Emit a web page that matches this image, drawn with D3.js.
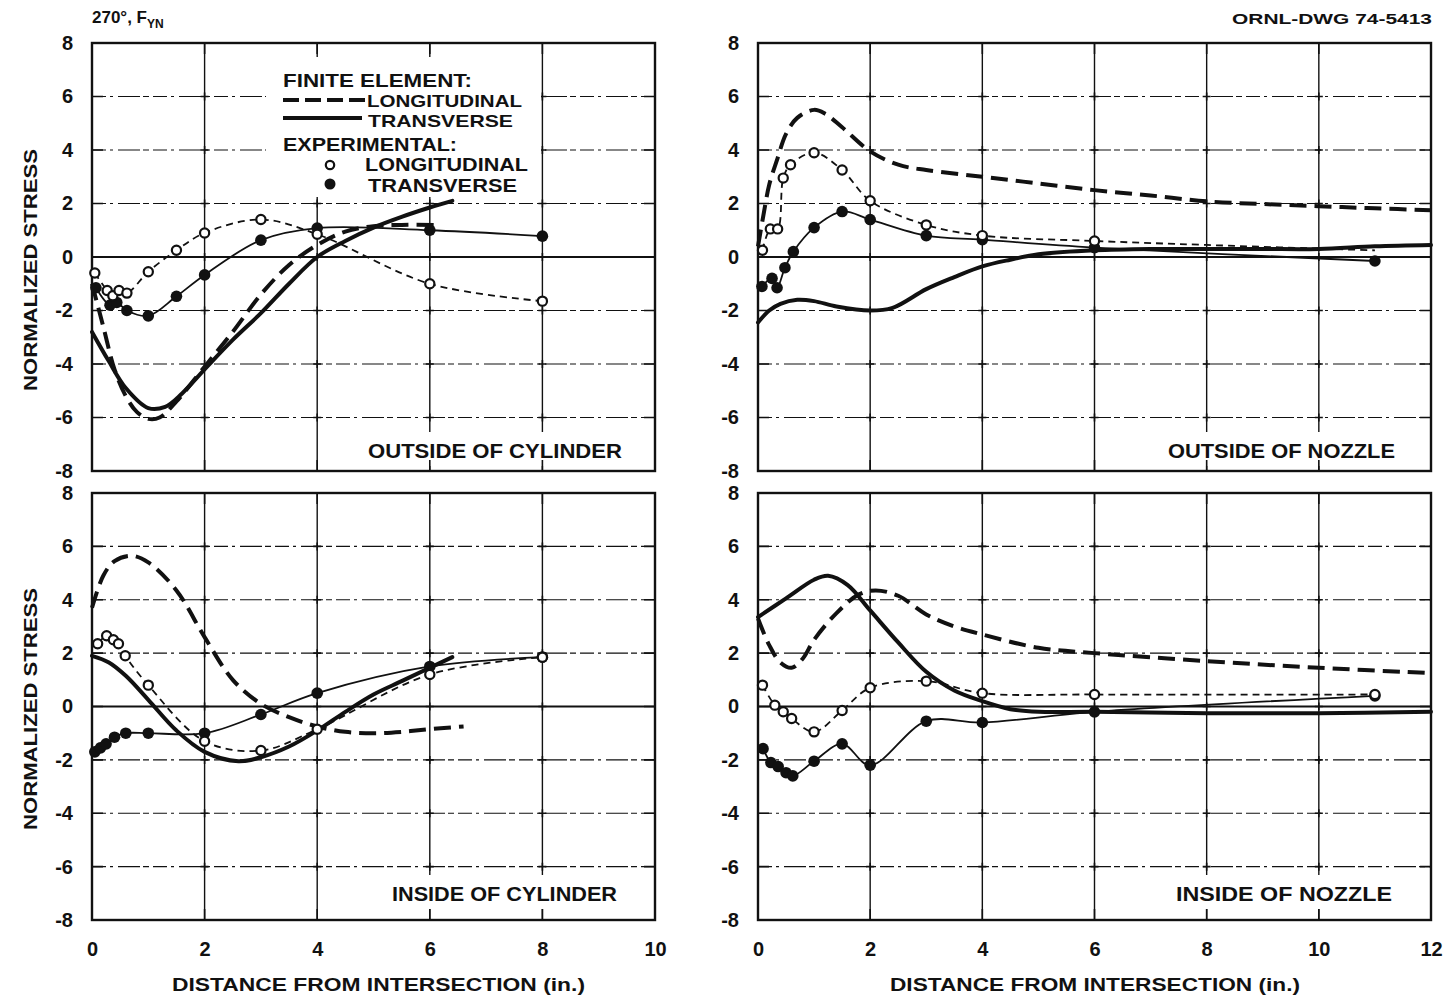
<!DOCTYPE html>
<html>
<head>
<meta charset="utf-8">
<script src="https://cdn.jsdelivr.net/npm/d3@7"></script>
<style>
  body { margin: 0; background: #fff; }
  svg { display: block; }
  text { font-family: "Liberation Sans", Arial, sans-serif; font-weight: bold; fill: #111; }
</style>
</head>
<body>
<svg id="chart" width="1447" height="1001"></svg>
<script>
// ---- axis ticks ----
const xTicksCylinder = [0, 2, 4, 6, 8, 10];
const xTicksNozzle = [0, 2, 4, 6, 8, 10, 12];
const yTicks = [8, 6, 4, 2, 0, -2, -4, -6, -8];

// ---- outside of cylinder ----
const feLongOutCyl = [[0,-1.0],[0.2,-2.6],[0.4,-4.2],[0.6,-5.2],[0.8,-5.8],[1.0,-6.05],[1.2,-6.0],[1.5,-5.4],[2.0,-4.1],[2.5,-2.8],[3.0,-1.4],[3.5,-0.3],[4.0,0.45],[4.5,0.95],[5.0,1.15],[5.5,1.2],[6.1,1.2]];
const feTransOutCyl = [[0,-2.8],[0.3,-3.9],[0.6,-4.9],[1.0,-5.65],[1.3,-5.6],[1.6,-5.1],[2.0,-4.2],[2.5,-3.1],[3.0,-2.1],[3.5,-1.0],[4.0,0.0],[4.5,0.6],[5.0,1.1],[5.5,1.5],[6.0,1.85],[6.4,2.1]];
const expLongOutCyl = [[0.05,-0.6],[0.27,-1.25],[0.37,-1.45],[0.48,-1.25],[0.62,-1.35],[1.0,-0.55],[1.5,0.25],[2.0,0.9],[3.0,1.4],[4.0,0.85],[6.0,-1.0],[8.0,-1.65]];
const expTransOutCyl = [[0.07,-1.15],[0.32,-1.8],[0.44,-1.7],[0.62,-2.0],[1.0,-2.2],[1.5,-1.47],[2.0,-0.67],[3.0,0.63],[4.0,1.08],[6.0,1.0],[8.0,0.78]];

// ---- outside of nozzle ----
const feLongOutNoz = [[0,0.4],[0.1,1.6],[0.2,2.7],[0.35,3.7],[0.5,4.6],[0.7,5.2],[1.0,5.5],[1.2,5.35],[1.5,4.85],[2.0,3.95],[2.5,3.45],[3.0,3.25],[4.0,3.0],[5.0,2.75],[6.0,2.5],[7.0,2.3],[8.0,2.08],[9.0,1.98],[10.0,1.9],[11.0,1.82],[12.0,1.75]];
const feTransOutNoz = [[0,-2.45],[0.2,-2.0],[0.4,-1.75],[0.7,-1.6],[1.0,-1.65],[1.4,-1.85],[2.0,-2.0],[2.4,-1.9],[3.0,-1.2],[3.5,-0.75],[4.0,-0.35],[4.5,-0.1],[5.0,0.1],[6.0,0.25],[7.0,0.3],[8.0,0.3],[9.0,0.3],[10.0,0.3],[11.0,0.4],[12.0,0.45]];
const expLongOutNoz = [[0.08,0.25],[0.22,1.05],[0.35,1.05],[0.45,2.95],[0.58,3.45],[1.0,3.9],[1.5,3.25],[2.0,2.1],[3.0,1.2],[4.0,0.8],[6.0,0.6]];
const expLongOutNozTail = [[8.0,0.45],[11.0,0.25]];
const expTransOutNoz = [[0.07,-1.1],[0.25,-0.8],[0.34,-1.15],[0.48,-0.4],[0.63,0.2],[1.0,1.1],[1.5,1.7],[2.0,1.4],[3.0,0.8],[4.0,0.65],[6.0,0.35],[11.0,-0.15]];

// ---- inside of cylinder ----
const feLongInCyl = [[0,3.7],[0.2,4.9],[0.4,5.45],[0.7,5.65],[1.0,5.4],[1.5,4.35],[2.0,2.6],[2.5,1.0],[3.0,0.1],[3.5,-0.4],[4.0,-0.75],[4.5,-0.95],[5.0,-1.0],[5.5,-0.95],[6.0,-0.85],[6.6,-0.75]];
const feTransInCyl = [[0,1.9],[0.3,1.65],[0.6,1.15],[1.0,0.25],[1.5,-0.9],[2.0,-1.7],[2.6,-2.05],[3.0,-1.9],[3.5,-1.5],[4.0,-0.9],[4.5,-0.2],[5.0,0.45],[5.5,0.95],[6.0,1.45],[6.4,1.85]];
const expLongInCyl = [[0.1,2.35],[0.26,2.65],[0.38,2.5],[0.47,2.35],[0.59,1.9],[1.0,0.8],[2.0,-1.3],[3.0,-1.65],[4.0,-0.85],[6.0,1.2],[8.0,1.85]];
const expTransInCyl = [[0.05,-1.7],[0.15,-1.55],[0.25,-1.4],[0.4,-1.15],[0.6,-1.0],[1.0,-1.0],[2.0,-1.0],[3.0,-0.3],[4.0,0.5],[6.0,1.5],[8.0,1.85]];

// ---- inside of nozzle ----
const feLongInNoz = [[0,3.3],[0.2,2.3],[0.4,1.65],[0.6,1.45],[0.8,1.8],[1.0,2.5],[1.4,3.5],[1.8,4.2],[2.1,4.35],[2.5,4.15],[3.0,3.45],[3.5,3.0],[4.0,2.7],[5.0,2.2],[6.0,2.0],[8.0,1.7],[10.0,1.45],[12.0,1.25]];
const feTransInNoz = [[0,3.35],[0.5,4.05],[1.0,4.75],[1.25,4.9],[1.6,4.55],[2.0,3.6],[2.5,2.4],[3.0,1.3],[3.5,0.6],[4.0,0.2],[4.5,-0.1],[5.0,-0.2],[6.0,-0.2],[8.0,-0.25],[10.0,-0.25],[12.0,-0.2]];
const expLongInNoz = [[0.08,0.8],[0.3,0.05],[0.45,-0.2],[0.6,-0.45],[1.0,-0.95],[1.5,-0.15],[2.0,0.7],[3.0,0.95],[4.0,0.5],[6.0,0.45],[11.0,0.45]];
const expTransInNoz = [[0.09,-1.58],[0.23,-2.1],[0.36,-2.25],[0.5,-2.48],[0.62,-2.6],[1.0,-2.05],[1.5,-1.4],[2.0,-2.2],[3.0,-0.55],[4.0,-0.6],[6.0,-0.2],[11.0,0.4]];

// ---- panel layout ----
const panels = [
  { x0: 92,  x1: 655,  y0: 43,  y1: 471, xMax: 10, xTicks: xTicksCylinder, showX: false,
    label: "OUTSIDE OF CYLINDER", lx: 368, ly: 450, lw: 254,
    feLong: feLongOutCyl, feTrans: feTransOutCyl, expLong: expLongOutCyl, expTrans: expTransOutCyl, legend: true },
  { x0: 758, x1: 1431, y0: 43,  y1: 471, xMax: 12, xTicks: xTicksNozzle, showX: false,
    label: "OUTSIDE OF NOZZLE", lx: 1168, ly: 450, lw: 227,
    feLong: feLongOutNoz, feTrans: feTransOutNoz, expLong: expLongOutNoz.concat(expLongOutNozTail),
    expLongPts: expLongOutNoz, expTrans: expTransOutNoz },
  { x0: 92,  x1: 655,  y0: 493, y1: 920, xMax: 10, xTicks: xTicksCylinder, showX: true,
    label: "INSIDE OF CYLINDER", lx: 392, ly: 893, lw: 225,
    feLong: feLongInCyl, feTrans: feTransInCyl, expLong: expLongInCyl, expTrans: expTransInCyl },
  { x0: 758, x1: 1431, y0: 493, y1: 920, xMax: 12, xTicks: xTicksNozzle, showX: true,
    label: "INSIDE OF NOZZLE", lx: 1176, ly: 893, lw: 216,
    feLong: feLongInNoz, feTrans: feTransInNoz, expLong: expLongInNoz, expTrans: expTransInNoz }
];

const svg = d3.select("#chart");
const INK = "#111";

function drawPanel(p) {
  const x = d3.scaleLinear().domain([0, p.xMax]).range([p.x0, p.x1]);
  const y = d3.scaleLinear().domain([-8, 8]).range([p.y1, p.y0]);
  const g = svg.append("g");

  // horizontal grid (broken, dash-dot) and solid zero line
  g.selectAll("line.hgrid").data(yTicks.filter(v => v > -8 && v < 8)).join("line")
    .attr("x1", p.x0).attr("x2", p.x1)
    .attr("y1", d => y(d)).attr("y2", d => y(d))
    .attr("stroke", INK)
    .attr("stroke-width", d => d === 0 ? 2 : 1.1)
    .attr("stroke-dasharray", d => d === 0 ? null : "14,4,3,5,22,3,6,4");

  // vertical grid (solid)
  g.selectAll("line.vgrid").data(p.xTicks.filter(v => v > 0 && v < p.xMax)).join("line")
    .attr("x1", d => x(d)).attr("x2", d => x(d))
    .attr("y1", p.y0).attr("y2", p.y1)
    .attr("stroke", INK).attr("stroke-width", 1.4);

  // small crosses at grid intersections
  const cross = [];
  p.xTicks.filter(v => v > 0 && v < p.xMax).forEach(xv =>
    yTicks.filter(v => v > -8 && v < 8).forEach(yv => cross.push([xv, yv])));
  g.selectAll("path.cross").data(cross).join("path")
    .attr("d", d => `M${x(d[0]) - 4},${y(d[1])}h8M${x(d[0])},${y(d[1]) - 4}v8`)
    .attr("stroke", INK).attr("stroke-width", 1.6);

  // white boxes behind legend and panel label
  if (p.legend) {
    g.append("rect").attr("x", 266).attr("y", 57).attr("width", 275).attr("height", 140).attr("fill", "#fff");
  }
  g.append("rect").attr("x", p.lx - 6).attr("y", p.ly - 18).attr("width", p.lw + 12).attr("height", 34).attr("fill", "#fff");

  // inward frame ticks
  const tk = 11;
  const edgeTicks = [];
  p.xTicks.filter(v => v > 0 && v < p.xMax).forEach(v => {
    edgeTicks.push(`M${x(v)},${p.y0}v${tk}`, `M${x(v)},${p.y1}v${-tk}`);
  });
  yTicks.filter(v => v > -8 && v < 8).forEach(v => {
    edgeTicks.push(`M${p.x0},${y(v)}h${tk}`, `M${p.x1},${y(v)}h${-tk}`);
  });
  g.append("path").attr("d", edgeTicks.join("")).attr("stroke", INK).attr("stroke-width", 1.6);

  // frame
  g.append("rect").attr("x", p.x0).attr("y", p.y0)
    .attr("width", p.x1 - p.x0).attr("height", p.y1 - p.y0)
    .attr("fill", "none").attr("stroke", INK).attr("stroke-width", 2.4);

  // curves
  const line = d3.line().x(d => x(d[0])).y(d => y(d[1])).curve(d3.curveCatmullRom.alpha(0.5));
  g.append("path").attr("d", line(p.expLong)).attr("fill", "none")
    .attr("stroke", INK).attr("stroke-width", 1.8).attr("stroke-dasharray", "7,5");
  g.append("path").attr("d", line(p.expTrans)).attr("fill", "none")
    .attr("stroke", INK).attr("stroke-width", 1.8);
  g.append("path").attr("d", line(p.feTrans)).attr("fill", "none")
    .attr("stroke", INK).attr("stroke-width", 4).attr("stroke-linecap", "round");
  g.append("path").attr("d", line(p.feLong)).attr("fill", "none")
    .attr("stroke", INK).attr("stroke-width", 4).attr("stroke-dasharray", "17,8");

  // experimental points
  g.selectAll("circle.tr").data(p.expTrans).join("circle")
    .attr("cx", d => x(d[0])).attr("cy", d => y(d[1])).attr("r", 5.8).attr("fill", INK);
  g.selectAll("circle.lo").data(p.expLongPts || p.expLong).join("circle")
    .attr("cx", d => x(d[0])).attr("cy", d => y(d[1])).attr("r", 4.6)
    .attr("fill", "#fff").attr("stroke", INK).attr("stroke-width", 2.2);

  // y tick labels
  const ya = g.append("g").attr("transform", `translate(${p.x0},0)`)
    .call(d3.axisLeft(y).tickValues(yTicks).tickSize(0).tickPadding(19).tickFormat(d => String(d)));
  ya.select(".domain").remove();
  ya.selectAll("text").attr("font-size", 20).attr("font-family", '"Liberation Sans", Arial, sans-serif')
    .attr("font-weight", "bold").attr("fill", INK);

  // x tick labels
  if (p.showX) {
    const xa = g.append("g").attr("transform", `translate(0,${p.y1})`)
      .call(d3.axisBottom(x).tickValues(p.xTicks).tickSize(0).tickPadding(22).tickFormat(d => String(d)));
    xa.select(".domain").remove();
    xa.selectAll("text").attr("font-size", 20).attr("font-family", '"Liberation Sans", Arial, sans-serif')
      .attr("font-weight", "bold").attr("fill", INK);
  }

  // panel label
  g.append("text").attr("x", p.lx).attr("y", p.ly).attr("dy", "0.36em")
    .attr("font-size", 21).attr("textLength", p.lw).attr("lengthAdjust", "spacingAndGlyphs")
    .text(p.label);
}

panels.forEach(drawPanel);

// legend (outside of cylinder panel)
const lg = svg.append("g");
lg.append("text").attr("x", 283).attr("y", 80).attr("dy", "0.36em").attr("font-size", 19)
  .attr("textLength", 189).attr("lengthAdjust", "spacingAndGlyphs").text("FINITE ELEMENT:");
lg.append("line").attr("x1", 283).attr("x2", 365).attr("y1", 100).attr("y2", 100)
  .attr("stroke", INK).attr("stroke-width", 4).attr("stroke-dasharray", "16,6");
lg.append("text").attr("x", 367).attr("y", 101).attr("dy", "0.36em").attr("font-size", 17)
  .attr("textLength", 155).attr("lengthAdjust", "spacingAndGlyphs").text("LONGITUDINAL");
lg.append("line").attr("x1", 283).attr("x2", 362).attr("y1", 118).attr("y2", 118)
  .attr("stroke", INK).attr("stroke-width", 4);
lg.append("text").attr("x", 368).attr("y", 121).attr("dy", "0.36em").attr("font-size", 17)
  .attr("textLength", 145).attr("lengthAdjust", "spacingAndGlyphs").text("TRANSVERSE");
lg.append("text").attr("x", 283).attr("y", 144).attr("dy", "0.36em").attr("font-size", 19)
  .attr("textLength", 174).attr("lengthAdjust", "spacingAndGlyphs").text("EXPERIMENTAL:");
lg.append("circle").attr("cx", 330).attr("cy", 165).attr("r", 4.2)
  .attr("fill", "#fff").attr("stroke", INK).attr("stroke-width", 2.2);
lg.append("text").attr("x", 365).attr("y", 165).attr("dy", "0.36em").attr("font-size", 18)
  .attr("textLength", 163).attr("lengthAdjust", "spacingAndGlyphs").text("LONGITUDINAL");
lg.append("circle").attr("cx", 330).attr("cy", 184).attr("r", 5.5).attr("fill", INK);
lg.append("text").attr("x", 368).attr("y", 186).attr("dy", "0.36em").attr("font-size", 18)
  .attr("textLength", 149).attr("lengthAdjust", "spacingAndGlyphs").text("TRANSVERSE");

// y axis titles
[270, 709].forEach(cy => {
  svg.append("text").attr("transform", `translate(30,${cy}) rotate(-90)`)
    .attr("text-anchor", "middle").attr("dy", "0.36em").attr("font-size", 19)
    .attr("textLength", 242).attr("lengthAdjust", "spacingAndGlyphs").text("NORMALIZED STRESS");
});

// x axis titles
[[172, 413], [890, 410]].forEach(([x0, w]) => {
  svg.append("text").attr("x", x0).attr("y", 985).attr("dy", "0.36em").attr("font-size", 18)
    .attr("font-weight", "600").attr("textLength", w).attr("lengthAdjust", "spacingAndGlyphs")
    .text("DISTANCE FROM INTERSECTION (in.)");
});

// header texts
const title = svg.append("text").attr("x", 92).attr("y", 23).attr("font-size", 17);
title.append("tspan").text("270°, F");
title.append("tspan").attr("dy", 5).attr("font-size", 12).text("YN");
svg.append("text").attr("x", 1432).attr("y", 24).attr("text-anchor", "end").attr("font-size", 15)
  .attr("textLength", 200).attr("lengthAdjust", "spacingAndGlyphs").text("ORNL-DWG 74-5413");
</script>
</body>
</html>
